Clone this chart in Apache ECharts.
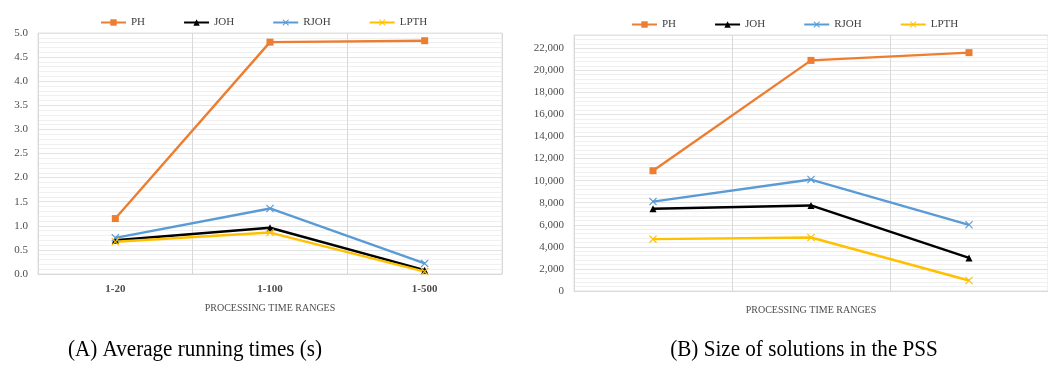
<!DOCTYPE html>
<html>
<head>
<meta charset="utf-8">
<script src="https://cdn.jsdelivr.net/npm/echarts@6/dist/echarts.min.js"></script>
<style>html,body{margin:0;padding:0;background:#fff;}#c{width:1048px;height:369px;}</style>
</head>
<body>
<div id="c"></div>
<script>
const categories = ['1-20', '1-100', '1-500'];
const seriesNames = ['PH', 'JOH', 'RJOH', 'LPTH'];
const timePH = [1.15, 4.81, 4.84];
const timeJOH = [0.70, 0.96, 0.08];
const timeRJOH = [0.75, 1.36, 0.22];
const timeLPTH = [0.67, 0.86, 0.05];
const sizePH = [10900, 20900, 21600];
const sizeJOH = [7450, 7750, 3000];
const sizeRJOH = [8100, 10100, 6000];
const sizeLPTH = [4700, 4850, 950];
const yTimeTicks = { min: 0, max: 5, interval: 0.5 };
const ySizeTicks = { min: 0, max: 23200, interval: 2000 };
const captionA = '(A) Average running times (s)';
const captionB = '(B) Size of solutions in the PSS';
const xName = 'PROCESSING TIME RANGES';

const colors = { PH: '#ED7D31', JOH: '#000000', RJOH: '#5B9BD5', LPTH: '#FFC000' };
const xPath = 'path://M0,1L1,0L5,4L9,0L10,1L6,5L10,9L9,10L5,6L1,10L0,9L4,5Z';
const symbols = { PH: 'rect', JOH: 'triangle', RJOH: xPath, LPTH: xPath };
const symSize = { PH: 7, JOH: 7, RJOH: 8, LPTH: 8 };
const font = 'Liberation Serif';
const labelColor = '#4d4d4d';

function mkSeries(name, data, idx) {
  return {
    name: name, type: 'line', data: data,
    xAxisIndex: idx, yAxisIndex: idx,
    symbol: symbols[name], symbolSize: symSize[name],
    lineStyle: { color: colors[name], width: 2.4 },
    itemStyle: { color: colors[name] },
    z: 3
  };
}

const chart = echarts.init(document.getElementById('c'), null, { renderer: 'canvas' });
const legendBase = {
  itemWidth: 25, itemHeight: 8, itemGap: 38,
  textStyle: { fontFamily: font, fontSize: 11, color: '#404040' },
  data: seriesNames
};
function yAxisCfg(idx, ticks, fmt) {
  return {
    type: 'value', gridIndex: idx, min: ticks.min, max: ticks.max, interval: ticks.interval,
    axisLine: { show: false }, axisTick: { show: false },
    axisLabel: { fontFamily: font, fontSize: 11, color: labelColor, margin: 10, showMaxLabel: idx === 0, formatter: fmt },
    splitLine: { show: true, lineStyle: { color: '#e3e3e3', width: 1 } },
    minorTick: { show: false, splitNumber: 5 },
    minorSplitLine: { show: true, lineStyle: { color: '#f0f0f0', width: 1 } }
  };
}
function xAxisCfg(idx, showLabels, gap) {
  return {
    type: 'category', gridIndex: idx, data: categories, boundaryGap: true,
    axisLine: { show: true, lineStyle: { color: '#d9d9d9' } },
    axisTick: { show: false },
    axisLabel: { show: showLabels, fontFamily: font, fontSize: 11, fontWeight: 'bold', color: labelColor, margin: 10 },
    splitLine: { show: true, lineStyle: { color: '#d9d9d9', width: 1 } },
    name: xName, nameLocation: 'middle', nameGap: gap,
    nameTextStyle: { fontFamily: font, fontSize: 10, color: labelColor }
  };
}

chart.setOption({
  animation: false,
  backgroundColor: '#ffffff',
  grid: [
    { left: 38, top: 33, width: 464, bottom: 95, show: true, borderColor: '#e3e3e3', borderWidth: 1 },
    { left: 574, top: 35, right: -6, bottom: 78, show: true, borderColor: '#e3e3e3', borderWidth: 1 }
  ],
  legend: [
    Object.assign({}, legendBase, { left: 95, top: 12 }),
    Object.assign({}, legendBase, { left: 626, top: 14 })
  ],
  xAxis: [xAxisCfg(0, true, 29), xAxisCfg(1, false, 14)],
  yAxis: [
    yAxisCfg(0, yTimeTicks, function (v) { return v.toFixed(1); }),
    yAxisCfg(1, ySizeTicks, function (v) { return v.toLocaleString('en-US'); })
  ],
  series: [
    mkSeries('PH', timePH, 0), mkSeries('JOH', timeJOH, 0), mkSeries('RJOH', timeRJOH, 0), mkSeries('LPTH', timeLPTH, 0),
    mkSeries('PH', sizePH, 1), mkSeries('JOH', sizeJOH, 1), mkSeries('RJOH', sizeRJOH, 1), mkSeries('LPTH', sizeLPTH, 1)
  ],
  graphic: [
    { type: 'text', x: 195, y: 350, scaleX: 0.88, style: { text: captionA, font: '24px "Liberation Serif"', fill: '#000', align: 'center', verticalAlign: 'middle' } },
    { type: 'text', x: 804, y: 350, scaleX: 0.88, style: { text: captionB, font: '24px "Liberation Serif"', fill: '#000', align: 'center', verticalAlign: 'middle' } }
  ]
});
</script>
</body>
</html>
